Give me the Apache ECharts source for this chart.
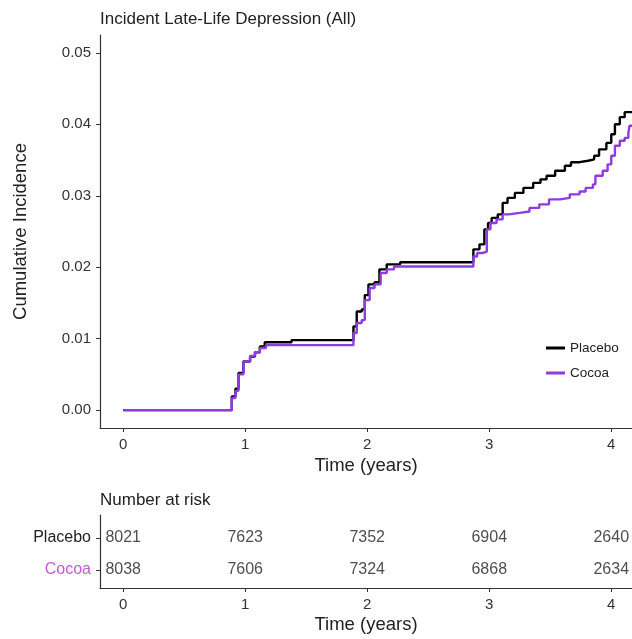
<!DOCTYPE html>
<html>
<head>
<meta charset="utf-8">
<script src="https://cdn.jsdelivr.net/npm/echarts@6/dist/echarts.min.js"></script>
<style>html,body{margin:0;padding:0;background:#fff}#c{width:632px;height:639px}</style>
</head>
<body>
<div id="c"></div>
<script>
// ---- data ----
var placeboT = [0,0.89,0.92,0.945,0.985,1.04,1.08,1.12,1.16,1.38,1.887,1.914,1.955,1.98,2.01,2.06,2.10,2.16,2.27,2.87,2.92,2.96,2.99,3.02,3.07,3.11,3.15,3.21,3.28,3.36,3.42,3.47,3.54,3.62,3.67,3.74,3.81,3.86,3.90,3.96,4.00,4.03,4.07,4.11,4.17];
var placeboV = [0,0.0019,0.0030,0.0052,0.0068,0.0075,0.0081,0.0089,0.0095,0.0098,0.0117,0.0138,0.0141,0.0161,0.0176,0.0179,0.0197,0.0204,0.0207,0.0225,0.0232,0.0253,0.0262,0.0269,0.0274,0.0290,0.0297,0.0304,0.0311,0.0318,0.0323,0.0328,0.0335,0.0342,0.0347,0.0349,0.0351,0.0356,0.0365,0.0374,0.0386,0.0400,0.0410,0.0417,0.0417];
var cocoaT = [0,0.89,0.92,0.945,0.985,1.04,1.08,1.12,1.17,1.887,1.914,1.955,1.98,2.02,2.06,2.11,2.16,2.22,2.87,2.90,2.95,2.98,3.01,3.06,3.11,3.16,3.25,3.33,3.41,3.49,3.58,3.66,3.74,3.79,3.85,3.87,3.93,3.97,4.00,4.03,4.07,4.11,4.14,4.15,4.17];
var cocoaV = [0,0.0017,0.0027,0.0050,0.0068,0.0076,0.0081,0.0087,0.0091,0.0108,0.0122,0.0126,0.0154,0.0171,0.0176,0.0192,0.0197,0.0201,0.0215,0.0220,0.0222,0.0253,0.0262,0.0267,0.0274,0.0276,0.0278,0.0283,0.0288,0.0295,0.0297,0.0302,0.0306,0.0311,0.0316,0.0328,0.0335,0.0344,0.0356,0.0370,0.0377,0.0381,0.0388,0.0398,0.0398];
var riskTimes = [0,1,2,3,4];
var placeboRisk = [8021,7623,7352,6904,2640];
var cocoaRisk = [8038,7606,7324,6868,2634];
var yTicks = [0,0.01,0.02,0.03,0.04,0.05];
var xTicks = [0,1,2,3,4];
var groups = ['Placebo','Cocoa'];

// ---- build ----
function pairs(t, v){ return t.map(function(x,i){ return [x, v[i]]; }); }
var riskData = [];
riskTimes.forEach(function(t,i){
  riskData.push([t, 2, String(placeboRisk[i])]);
  riskData.push([t, 1, String(cocoaRisk[i])]);
});
var FONT = '"Liberation Sans", Arial, sans-serif';
var AX = '#333';
var PURPLE = '#8E3CDB';
var axisCommon = {
  axisLine: {onZero: false, lineStyle: {color: AX, width: 1.2}},
  splitLine: {show: false},
  nameTextStyle: {fontFamily: FONT, fontSize: 18.5, color: '#222'}
};
function xAx(gi, gap){
  return Object.assign({}, axisCommon, {
    type: 'value', gridIndex: gi, min: -0.19, max: 4.17,
    name: 'Time (years)', nameLocation: 'middle', nameGap: gap,
    axisTick: {length: 4, lineStyle: {color: AX}, customValues: xTicks},
    axisLabel: {customValues: xTicks, fontFamily: FONT, fontSize: 15, color: AX, margin: 9}
  });
}
var chart = echarts.init(document.getElementById('c'), null, {renderer: 'canvas'});
chart.setOption({
  animation: false,
  backgroundColor: '#fff',
  title: [
    {text: 'Incident Late-Life Depression (All)', left: 95, top: 6, textStyle: {fontFamily: FONT, fontSize: 17, fontWeight: 'normal', color: '#222'}},
    {text: 'Number at risk', left: 95, top: 487, textStyle: {fontFamily: FONT, fontSize: 17, fontWeight: 'normal', color: '#222'}}
  ],
  legend: {
    orient: 'vertical', left: 541, top: 335, itemWidth: 19, itemHeight: 3, itemGap: 9,
    icon: 'rect',
    data: groups,
    textStyle: {fontFamily: FONT, fontSize: 13.5, color: '#222', lineHeight: 16}
  },
  grid: [
    {left: 100, right: 0, top: 35, height: 393},
    {left: 100, right: 0, top: 515, height: 73}
  ],
  xAxis: [xAx(0, 28), xAx(1, 27)],
  yAxis: [
    Object.assign({}, axisCommon, {
      type: 'value', gridIndex: 0, min: -0.0025, max: 0.0525,
      name: 'Cumulative Incidence', nameLocation: 'middle', nameGap: 70,
      axisTick: {length: 4, lineStyle: {color: AX}, customValues: yTicks},
      axisLabel: {customValues: yTicks, fontFamily: FONT, fontSize: 15, color: AX, margin: 9,
        formatter: function(v){ return v.toFixed(2); }}
    }),
    Object.assign({}, axisCommon, {
      type: 'value', gridIndex: 1, min: 0.44, max: 2.72,
      axisTick: {length: 4, lineStyle: {color: AX}, customValues: [1,2]},
      axisLabel: {customValues: [1,2], fontFamily: FONT, fontSize: 16, margin: 9,
        formatter: function(v){ return v === 2 ? groups[0] : groups[1]; },
        color: function(v){ return Number(v) === 2 ? '#222' : '#C05CCF'; }}
    })
  ],
  series: [
    {name: 'Placebo', type: 'line', step: 'end', xAxisIndex: 0, yAxisIndex: 0, showSymbol: false, symbol: 'none',
      data: pairs(placeboT, placeboV), lineStyle: {color: '#000', width: 2.4}, itemStyle: {color: '#000'}},
    {name: 'Cocoa', type: 'line', step: 'end', xAxisIndex: 0, yAxisIndex: 0, showSymbol: false, symbol: 'none',
      data: pairs(cocoaT, cocoaV), lineStyle: {color: PURPLE, width: 2.4}, itemStyle: {color: PURPLE}},
    {type: 'scatter', xAxisIndex: 1, yAxisIndex: 1, symbolSize: 1, silent: true,
      itemStyle: {color: 'rgba(0,0,0,0)'},
      data: riskData,
      label: {show: true, position: 'inside', formatter: function(p){ return p.value[2]; },
        fontFamily: FONT, fontSize: 16, color: '#222'}}
  ]
});
</script>
</body>
</html>
